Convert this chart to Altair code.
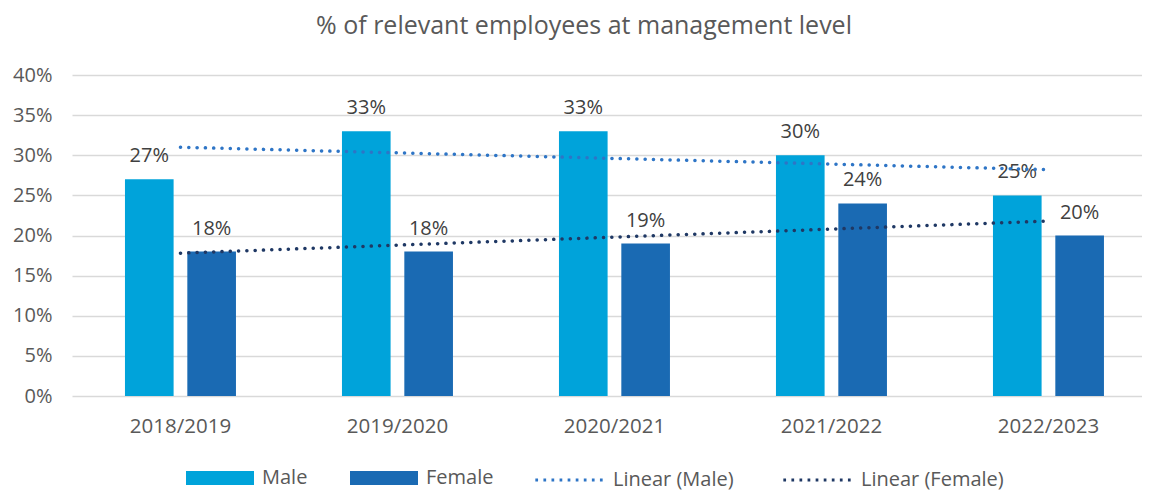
import json
import altair as alt
import pandas as pd

# ---- data ----
years = ["2018/2019", "2019/2020", "2020/2021", "2021/2022", "2022/2023"]
male = [27, 33, 33, 30, 25]
female = [18, 18, 19, 24, 20]
series = ["Male", "Female"]
trend_labels = ["Linear (Male)", "Linear (Female)"]
bar_colors = ["#00A3DA", "#1A6AB3"]
trend_colors = ["#2E75C6", "#1F3864"]
title_text = "% of relevant employees at management level"
y_ticks = [0, 0.05, 0.10, 0.15, 0.20, 0.25, 0.30, 0.35, 0.40]

rows = []
for i, yr in enumerate(years):
    rows.append({"year": yr, "idx": i + 1, "series": "Male", "value": male[i] / 100})
    rows.append({"year": yr, "idx": i + 1, "series": "Female", "value": female[i] / 100})
df = pd.DataFrame(rows)

FONT = "Open Sans"
GREY = "#595959"

# legend symbol shapes (unit box [-1, 1])
RECT = "M-1,-0.206H1V0.206H-1Z"
dots = []
for k in range(9):
    cx = -0.95 + k * (1.9 / 8)
    dots.append(f"M{cx - 0.04:.4f},0h0.08")
DOTS = "".join(dots)

common_legend = dict(
    title=None,
    orient="none",
    direction="horizontal",
    symbolSize=4624,
    symbolOpacity=1,
    labelFontSize=20,
    labelFont=FONT,
    labelColor=GREY,
    labelOffset=8,
    columnPadding=42,
)

x_enc = alt.X(
    "year:N",
    sort=years,
    title=None,
    scale=alt.Scale(paddingInner=0.4885, paddingOuter=0.2097, align=0.582),
    axis=alt.Axis(labelAngle=0, labelFontSize=20.5, labelColor=GREY, labelFont=FONT,
                  labelPadding=20, ticks=False, domain=False, grid=False),
)
y_enc = alt.Y(
    "value:Q",
    title=None,
    scale=alt.Scale(domain=[0, 0.4], nice=False),
    axis=alt.Axis(format=".0%", values=y_ticks, grid=True, gridColor="#D9D9D9",
                  gridWidth=1.5, domain=False, ticks=False, labelFontSize=20,
                  labelColor=GREY, labelFont=FONT, labelPadding=20),
)
fill_enc = alt.Fill(
    "series:N",
    sort=series,
    scale=alt.Scale(domain=series, range=bar_colors),
    legend=alt.Legend(legendX=114, legendY=369, symbolType=RECT,
                      symbolStrokeWidth=0, **common_legend),
)
stroke_enc = alt.Stroke(
    "trend:N",
    scale=alt.Scale(domain=trend_labels, range=trend_colors),
    legend=alt.Legend(legendX=461, legendY=369, symbolType=DOTS,
                      symbolStrokeWidth=3.2, **common_legend),
)
xoff = alt.XOffset("series:N", sort=series,
                   scale=alt.Scale(paddingInner=0.22, paddingOuter=0))

base = alt.Chart(df)

bars = base.mark_bar().encode(x=x_enc, xOffset=xoff, y=y_enc, fill=fill_enc)

labels = base.mark_text(baseline="alphabetic", dy=-17, fontSize=20, font=FONT,
                        color="#404040").encode(
    x=x_enc, xOffset=xoff, y=y_enc,
    text=alt.Text("value:Q", format=".0%"),
)

trend = (
    base.transform_regression("idx", "value", groupby=["series"], method="linear")
    .transform_calculate(
        year=f"{json.dumps(years)}[round(datum.idx) - 1]",
        trend="'Linear (' + datum.series + ')'",
    )
    .mark_line(strokeDash=[0.1, 8.2], strokeCap="round", strokeWidth=3.5)
    .encode(x=x_enc, y=y_enc, stroke=stroke_enc)
)

chart = (
    alt.layer(bars, labels, trend)
    .properties(
        width=1070,
        height=321,
        autosize=alt.AutoSizeParams(type="none"),
        padding={"left": 64, "top": 67, "right": 0, "bottom": 98},
        title=alt.TitleParams(title_text, fontSize=25, font=FONT, color=GREY,
                              fontWeight="normal", anchor="middle", dx=-23,
                              baseline="alphabetic", offset=6),
    )
    .configure_view(stroke=None)
)

chart.save("out.html", embed_options={"renderer": "svg", "actions": False})
